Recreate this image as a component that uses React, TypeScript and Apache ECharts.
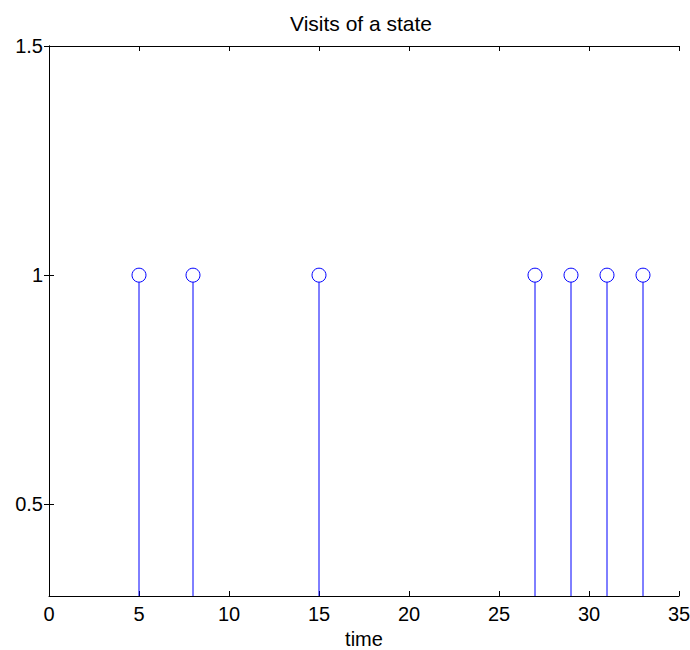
import React, { useEffect, useRef } from "react";
import * as echarts from "echarts";

const visitTimes = [5, 8, 15, 27, 29, 31, 33];
const visitValues = [1, 1, 1, 1, 1, 1, 1];
const yTickValues = [0.5, 1, 1.5];
const titleText = "Visits of a state";
const xAxisName = "time";

const FONT = "'Liberation Sans', Arial, Helvetica, sans-serif";
const BLUE = "#0000ff";

export default function App() {
  const ref = useRef<HTMLDivElement>(null);
  useEffect(() => {
    if (!ref.current) return;
    const chart = echarts.init(ref.current, undefined, { renderer: "svg" });
    const data = visitTimes.map((t, i) => [t, visitValues[i]]);
    const yMin = 0.3;
    const yMax = 1.5;
    const axisLine = { show: true, lineStyle: { color: "#000", width: 1 } };
    const tickStyle = { show: true, inside: true, length: 5, lineStyle: { color: "#000", width: 1 } };
    chart.setOption({
      animation: false,
      backgroundColor: "#fff",
      title: {
        text: titleText,
        left: 285,
        top: 8,
        textStyle: { fontFamily: FONT, fontSize: 21, fontWeight: "normal", color: "#000" },
      },
      grid: { left: 49, right: 11, top: 46, bottom: 54, containLabel: false, outerBoundsMode: "none" },
      xAxis: [
        {
          type: "value",
          min: 0,
          max: 35,
          interval: 5,
          position: "bottom",
          name: xAxisName,
          nameLocation: "middle",
          nameGap: 33,
          nameTextStyle: { fontFamily: FONT, fontSize: 20, color: "#000" },
          axisLine,
          axisTick: tickStyle,
          splitLine: { show: false },
          axisLabel: { fontFamily: FONT, fontSize: 20, color: "#000", margin: 8 },
        },
        {
          type: "value",
          min: 0,
          max: 35,
          interval: 5,
          position: "top",
          axisLine,
          axisTick: tickStyle,
          splitLine: { show: false },
          axisLabel: { show: false },
        },
      ],
      yAxis: [
        {
          type: "value",
          min: yMin,
          max: yMax,
          position: "left",
          axisLine,
          axisTick: { ...tickStyle, customValues: yTickValues },
          splitLine: { show: false },
          axisLabel: {
            fontFamily: FONT,
            fontSize: 20,
            color: "#000",
            margin: 6,
            customValues: yTickValues,
            formatter: (v: number) => String(v),
          },
        },
        {
          type: "value",
          min: yMin,
          max: yMax,
          position: "right",
          axisLine,
          axisTick: { ...tickStyle, customValues: yTickValues },
          splitLine: { show: false },
          axisLabel: { show: false },
        },
      ],
      series: [
        {
          type: "custom",
          xAxisIndex: 0,
          yAxisIndex: 0,
          clip: true,
          data,
          renderItem: (params: any, api: any) => {
            const x = api.value(0);
            const y = api.value(1);
            const top = api.coord([x, y]);
            const base = api.coord([x, yMin]);
            return {
              type: "group",
              children: [
                {
                  type: "line",
                  shape: { x1: top[0], y1: top[1] + 7, x2: base[0], y2: base[1] },
                  style: { stroke: BLUE, lineWidth: 1 },
                },
                {
                  type: "circle",
                  shape: { cx: top[0], cy: top[1], r: 7 },
                  style: { stroke: BLUE, fill: "none", lineWidth: 1 },
                },
              ],
            };
          },
        },
      ],
    });
    return () => chart.dispose();
  }, []);
  return (
    <div
      ref={ref}
      style={{ position: "fixed", left: 0, top: 0, width: 690, height: 650, background: "#fff" }}
    />
  );
}
